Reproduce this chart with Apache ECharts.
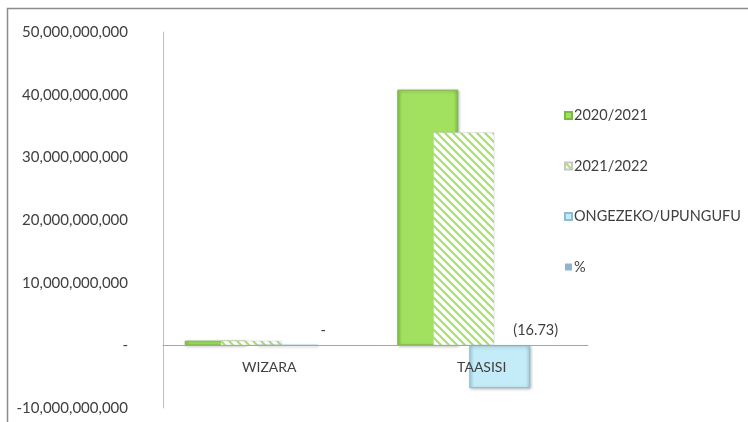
<!DOCTYPE html>
<html><head><meta charset="utf-8">
<script src="https://cdn.jsdelivr.net/npm/echarts@6/dist/echarts.min.js"></script>
<style>html,body{margin:0;padding:0;background:#fff}#c{width:748px;height:422px}</style>
</head><body><div id="c"></div>
<script>
const categories = ['WIZARA', 'TAASISI'];
const seriesNames = ['2020/2021', '2021/2022', 'ONGEZEKO/UPUNGUFU', '%'];
const values2020 = [750000000, 40800000000];
const values2021 = [720000000, 33970000000];
const valuesChange = [0, -6830000000];
const valuesPct = [0, -16.73];
const yTicks = [-10000000000, 0, 10000000000, 20000000000, 30000000000, 40000000000, 50000000000];

function hatch() {
  const c = document.createElement('canvas');
  c.width = 8; c.height = 8;
  const g = c.getContext('2d');
  g.fillStyle = '#ffffff'; g.fillRect(0, 0, 8, 8);
  g.strokeStyle = '#a8e06e'; g.lineWidth = 2.2;
  g.beginPath();
  g.moveTo(-2, -2); g.lineTo(10, 10);
  g.moveTo(-6, 2); g.lineTo(2, 10);
  g.moveTo(6, -2); g.lineTo(10, 2);
  g.moveTo(2, -6); g.lineTo(10, 2);
  g.stroke();
  return {image: c, repeat: 'repeat'};
}
const font = 'Lato, "Open Sans", sans-serif';
const chart = echarts.init(document.getElementById('c'));
chart.setOption({
  animation: false,
  backgroundColor: '#fff',
  graphic: [{type: 'rect', shape: {x: 7.5, y: 8.5, width: 800, height: 450}, style: {fill: 'none', stroke: '#8c8c8c', lineWidth: 1.5}, silent: true}],
  grid: {left: 163, right: 160, top: 32, bottom: 14, containLabel: false, outerBoundsMode: 'none'},
  legend: {
    orient: 'vertical', left: 559, top: 103, itemWidth: 7, itemHeight: 7, itemGap: 35.5,
    icon: 'rect',
    textStyle: {fontFamily: font, fontSize: 14.5, color: '#404040', padding: [0, 0, 0, -3]},
    data: seriesNames
  },
  xAxis: {
    type: 'category', data: categories,
    offset: -63, z: 10,
    axisLine: {onZero: false, lineStyle: {color: '#a6a6a6'}},
    axisTick: {show: false},
    axisLabel: {fontFamily: font, fontSize: 14, color: '#404040', margin: 15}
  },
  yAxis: {
    type: 'value', min: -10000000000, max: 50000000000, interval: 10000000000,
    splitLine: {show: false},
    axisLine: {show: true, lineStyle: {color: '#bfbfbf'}},
    axisTick: {show: false},
    axisLabel: {
      fontFamily: font, fontSize: 15, color: '#404040', margin: 35,
      formatter: v => v === 0 ? '-' : (v < 0 ? '-' : '') + Math.abs(v).toLocaleString('en-US')
    }
  },
  series: [
    {name: seriesNames[0], type: 'bar', data: values2020, barWidth: 61, barGap: '-41%',
     itemStyle: {color: {type: 'linear', x: 0, y: 0, x2: 1, y2: 0, colorStops: [
       {offset: 0, color: '#86c94a'}, {offset: 0.08, color: '#a2e05f'}, {offset: 0.92, color: '#a2e05f'}, {offset: 1, color: '#7fbf45'}]},
       borderColor: '#7cb845', borderWidth: 1, shadowColor: 'rgba(0,0,0,0.25)', shadowBlur: 3, shadowOffsetX: 1, shadowOffsetY: 1}},
    {name: seriesNames[1], type: 'bar', data: values2021, barWidth: 61, barGap: '-41%',
     itemStyle: {color: hatch(), borderColor: '#c7c7c7', borderWidth: 0.5}},
    {name: seriesNames[2], type: 'bar', data: valuesChange, barWidth: 61, barGap: '-41%',
     itemStyle: {color: {type: 'linear', x: 0, y: 0, x2: 1, y2: 0, colorStops: [
       {offset: 0, color: '#a9dcec'}, {offset: 0.08, color: '#c3ecf8'}, {offset: 0.92, color: '#c3ecf8'}, {offset: 1, color: '#9fd2e2'}]},
       borderColor: '#8fbccc', borderWidth: 1, shadowColor: 'rgba(0,0,0,0.25)', shadowBlur: 3, shadowOffsetX: 1, shadowOffsetY: 1}},
    {name: seriesNames[3], type: 'bar', data: valuesPct, barWidth: 61, barGap: '-41%',
     itemStyle: {color: '#8fb4d2'},
     label: {show: true, position: 'top', distance: 8, fontFamily: font, fontSize: 14.5, color: '#404040',
       formatter: p => p.value === 0 ? '-' : '(' + Math.abs(p.value).toFixed(2) + ')'}}
  ]
});
</script></body></html>
